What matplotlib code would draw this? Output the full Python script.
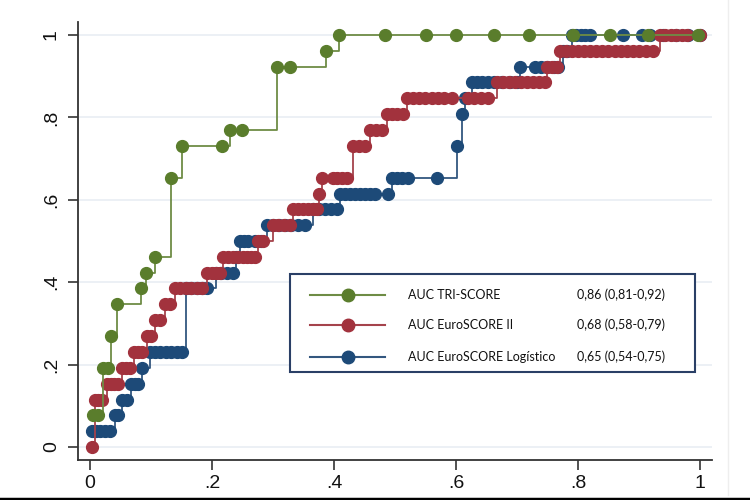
import matplotlib.pyplot as plt
from matplotlib.lines import Line2D
from matplotlib.patches import Rectangle

# ROC points (1 - specificity, sensitivity)
tri_x = [0.005, 0.013, 0.021, 0.030, 0.034, 0.044, 0.084, 0.092, 0.107, 0.133,
         0.151, 0.216, 0.230, 0.249, 0.307, 0.328, 0.387, 0.408, 0.484, 0.551,
         0.600, 0.662, 0.720, 0.792, 0.852, 0.915, 0.997]
tri_y = [0.077, 0.077, 0.192, 0.192, 0.269, 0.346, 0.385, 0.423, 0.462, 0.654,
         0.731, 0.731, 0.769, 0.769, 0.923, 0.923, 0.962, 1, 1, 1,
         1, 1, 1, 1, 1, 1, 1]

es2_x = [0.003,
         0.008, 0.013, 0.020,
         0.028, 0.034, 0.040, 0.046,
         0.052, 0.059, 0.066,
         0.072, 0.078, 0.085,
         0.093, 0.100,
         0.107, 0.115,
         0.123, 0.131,
         0.139, 0.148, 0.157, 0.166, 0.175, 0.184,
         0.192, 0.200, 0.207, 0.213,
         0.218, 0.226, 0.234, 0.242, 0.250, 0.258, 0.264, 0.270,
         0.275, 0.284,
         0.300, 0.309, 0.318, 0.328,
         0.333, 0.341, 0.349, 0.357, 0.365, 0.372,
         0.375,
         0.380, 0.398, 0.405, 0.413, 0.421,
         0.431, 0.441, 0.451,
         0.459, 0.469, 0.479,
         0.487, 0.495, 0.503, 0.513,
         0.520, 0.530, 0.540, 0.550, 0.560, 0.570, 0.580, 0.593, 0.620, 0.630, 0.641, 0.652,
         0.667, 0.677, 0.687, 0.697, 0.707, 0.716, 0.726, 0.736, 0.746,
         0.750, 0.757, 0.765,
         0.770, 0.780, 0.790, 0.800, 0.810, 0.820, 0.830, 0.840, 0.850, 0.860,
         0.870, 0.880, 0.890, 0.900, 0.912, 0.923,
         0.934, 0.943, 0.952, 0.961, 0.970, 0.979, 1.0]
es2_y = [0.0,
         0.115, 0.115, 0.115,
         0.154, 0.154, 0.154, 0.154,
         0.192, 0.192, 0.192,
         0.231, 0.231, 0.231,
         0.269, 0.269,
         0.308, 0.308,
         0.346, 0.346,
         0.385, 0.385, 0.385, 0.385, 0.385, 0.385,
         0.423, 0.423, 0.423, 0.423,
         0.462, 0.462, 0.462, 0.462, 0.462, 0.462, 0.462, 0.462,
         0.5, 0.5,
         0.538, 0.538, 0.538, 0.538,
         0.577, 0.577, 0.577, 0.577, 0.577, 0.577,
         0.615,
         0.654, 0.654, 0.654, 0.654, 0.654,
         0.731, 0.731, 0.731,
         0.769, 0.769, 0.769,
         0.808, 0.808, 0.808, 0.808,
         0.846, 0.846, 0.846, 0.846, 0.846, 0.846, 0.846, 0.846, 0.846, 0.846, 0.846, 0.846,
         0.885, 0.885, 0.885, 0.885, 0.885, 0.885, 0.885, 0.885, 0.885,
         0.923, 0.923, 0.923,
         0.962, 0.962, 0.962, 0.962, 0.962, 0.962, 0.962, 0.962, 0.962, 0.962,
         0.962, 0.962, 0.962, 0.962, 0.962, 0.962,
         1, 1, 1, 1, 1, 1, 1]

log_x = [0.003, 0.010, 0.017, 0.025, 0.033,
         0.041, 0.046,
         0.052, 0.061,
         0.067, 0.073, 0.079,
         0.085,
         0.098, 0.106, 0.115, 0.124, 0.133, 0.142, 0.151,
         0.157, 0.166, 0.175, 0.184, 0.192,
         0.207, 0.215, 0.225, 0.234,
         0.240,
         0.246, 0.253, 0.259, 0.270, 0.280,
         0.290, 0.300, 0.310, 0.320, 0.330, 0.341, 0.352,
         0.365, 0.375, 0.385, 0.395, 0.405,
         0.410, 0.418, 0.426, 0.434, 0.442, 0.450, 0.459, 0.467, 0.489,
         0.495, 0.503, 0.512, 0.521, 0.569,
         0.601,
         0.610,
         0.615,
         0.626, 0.634, 0.642, 0.652, 0.662, 0.675, 0.688, 0.700,
         0.705, 0.730, 0.740, 0.750, 0.760, 0.767,
         0.775, 0.782,
         0.790, 0.797, 0.805, 0.812, 0.820, 0.874, 0.905, 0.918, 0.940, 0.960, 0.980, 1.0]
log_y = [0.038, 0.038, 0.038, 0.038, 0.038,
         0.077, 0.077,
         0.115, 0.115,
         0.154, 0.154, 0.154,
         0.192,
         0.231, 0.231, 0.231, 0.231, 0.231, 0.231, 0.231,
         0.385, 0.385, 0.385, 0.385, 0.385,
         0.423, 0.423, 0.423, 0.423,
         0.462,
         0.5, 0.5, 0.5, 0.5, 0.5,
         0.538, 0.538, 0.538, 0.538, 0.538, 0.538, 0.538,
         0.577, 0.577, 0.577, 0.577, 0.577,
         0.615, 0.615, 0.615, 0.615, 0.615, 0.615, 0.615, 0.615, 0.615,
         0.654, 0.654, 0.654, 0.654, 0.654,
         0.731,
         0.808,
         0.846,
         0.885, 0.885, 0.885, 0.885, 0.885, 0.885, 0.885, 0.885,
         0.923, 0.923, 0.923, 0.923, 0.923, 0.923,
         0.962, 0.962,
         1, 1, 1, 1, 1, 1, 1, 1, 1, 1, 1, 1]

names = ['AUC TRI-SCORE', 'AUC EuroSCORE II', 'AUC EuroSCORE Logístico']
aucs = ['0,86 (0,81-0,92)', '0,68 (0,58-0,79)', '0,65 (0,54-0,75)']

green = '#5a7d2c'
red = '#a2323d'
blue = '#1d4a78'
line_green = '#6e8c45'
line_red = '#a5434c'
line_blue = '#33577f'

fig = plt.figure(figsize=(7.5, 5), dpi=100)
ax = fig.add_axes([78 / 750, 40 / 500, 634 / 750, 438 / 500])

ax.plot(log_x, log_y, drawstyle='steps-post', color=line_blue, lw=1.3, zorder=2)
ax.plot(log_x, log_y, 'o', color=blue, ms=8.5, zorder=3)
ax.plot(es2_x, es2_y, drawstyle='steps-post', color=line_red, lw=1.3, zorder=4)
ax.plot(es2_x, es2_y, 'o', color=red, ms=8.5, zorder=5)
ax.plot(tri_x, tri_y, drawstyle='steps-post', color=line_green, lw=1.3, zorder=6)
ax.plot(tri_x, tri_y, 'o', color=green, ms=8.5, zorder=7)

ax.set_xlim(-0.0197, 1.0197)
ax.set_ylim(-0.0316, 1.0316)
ticks = [0, 0.2, 0.4, 0.6, 0.8, 1]
labels = ['0', '.2', '.4', '.6', '.8', '1']
ax.set_xticks(ticks, labels)
ax.set_yticks(ticks, labels)
for t in ax.get_yticklabels():
    t.set_rotation(90)
    t.set_va('center')
ax.tick_params(length=7, width=1.2, color='#333333', labelsize=14, labelcolor='#111111')
ax.tick_params(axis='y', pad=6)
for lab in ax.get_xticklabels() + ax.get_yticklabels():
    lab.set_fontfamily('Liberation Sans')

ax.grid(axis='y', color='#e9eef3', lw=1.2)
ax.set_axisbelow(True)
for s in ['top', 'right']:
    ax.spines[s].set_visible(False)
for s in ['left', 'bottom']:
    ax.spines[s].set_color('#333333')
    ax.spines[s].set_linewidth(1.3)

# legend drawn by hand to keep the two text columns
ax.add_patch(Rectangle((0.334, 0.201), 0.639, 0.224, transform=ax.transAxes,
                       facecolor='white', edgecolor='#2a3f66', lw=1.5, zorder=10))
rows = [0.377, 0.308, 0.235]
for name, auc, c, lc, yy in zip(names, aucs, [green, red, blue],
                                [line_green, line_red, line_blue], rows):
    ax.add_line(Line2D([0.366, 0.484], [yy, yy], transform=ax.transAxes,
                       color=lc, lw=1.5, zorder=11))
    ax.add_line(Line2D([0.426], [yy], transform=ax.transAxes, marker='o',
                       color=c, ms=9, zorder=12))
    ax.text(0.52, yy, name, transform=ax.transAxes, va='center', fontsize=9,
            family='Lato', color='#111111', zorder=12)
    ax.text(0.787, yy, auc, transform=ax.transAxes, va='center', fontsize=9,
            family='Lato', color='#111111', zorder=12)

# screenshot edges
fig.add_artist(Line2D([0, 1], [0.003, 0.003], color='black', lw=2.5))
fig.add_artist(Line2D([728 / 750, 728 / 750], [0.01, 1], color='#eeeeee', lw=1))

plt.savefig('out.png')
